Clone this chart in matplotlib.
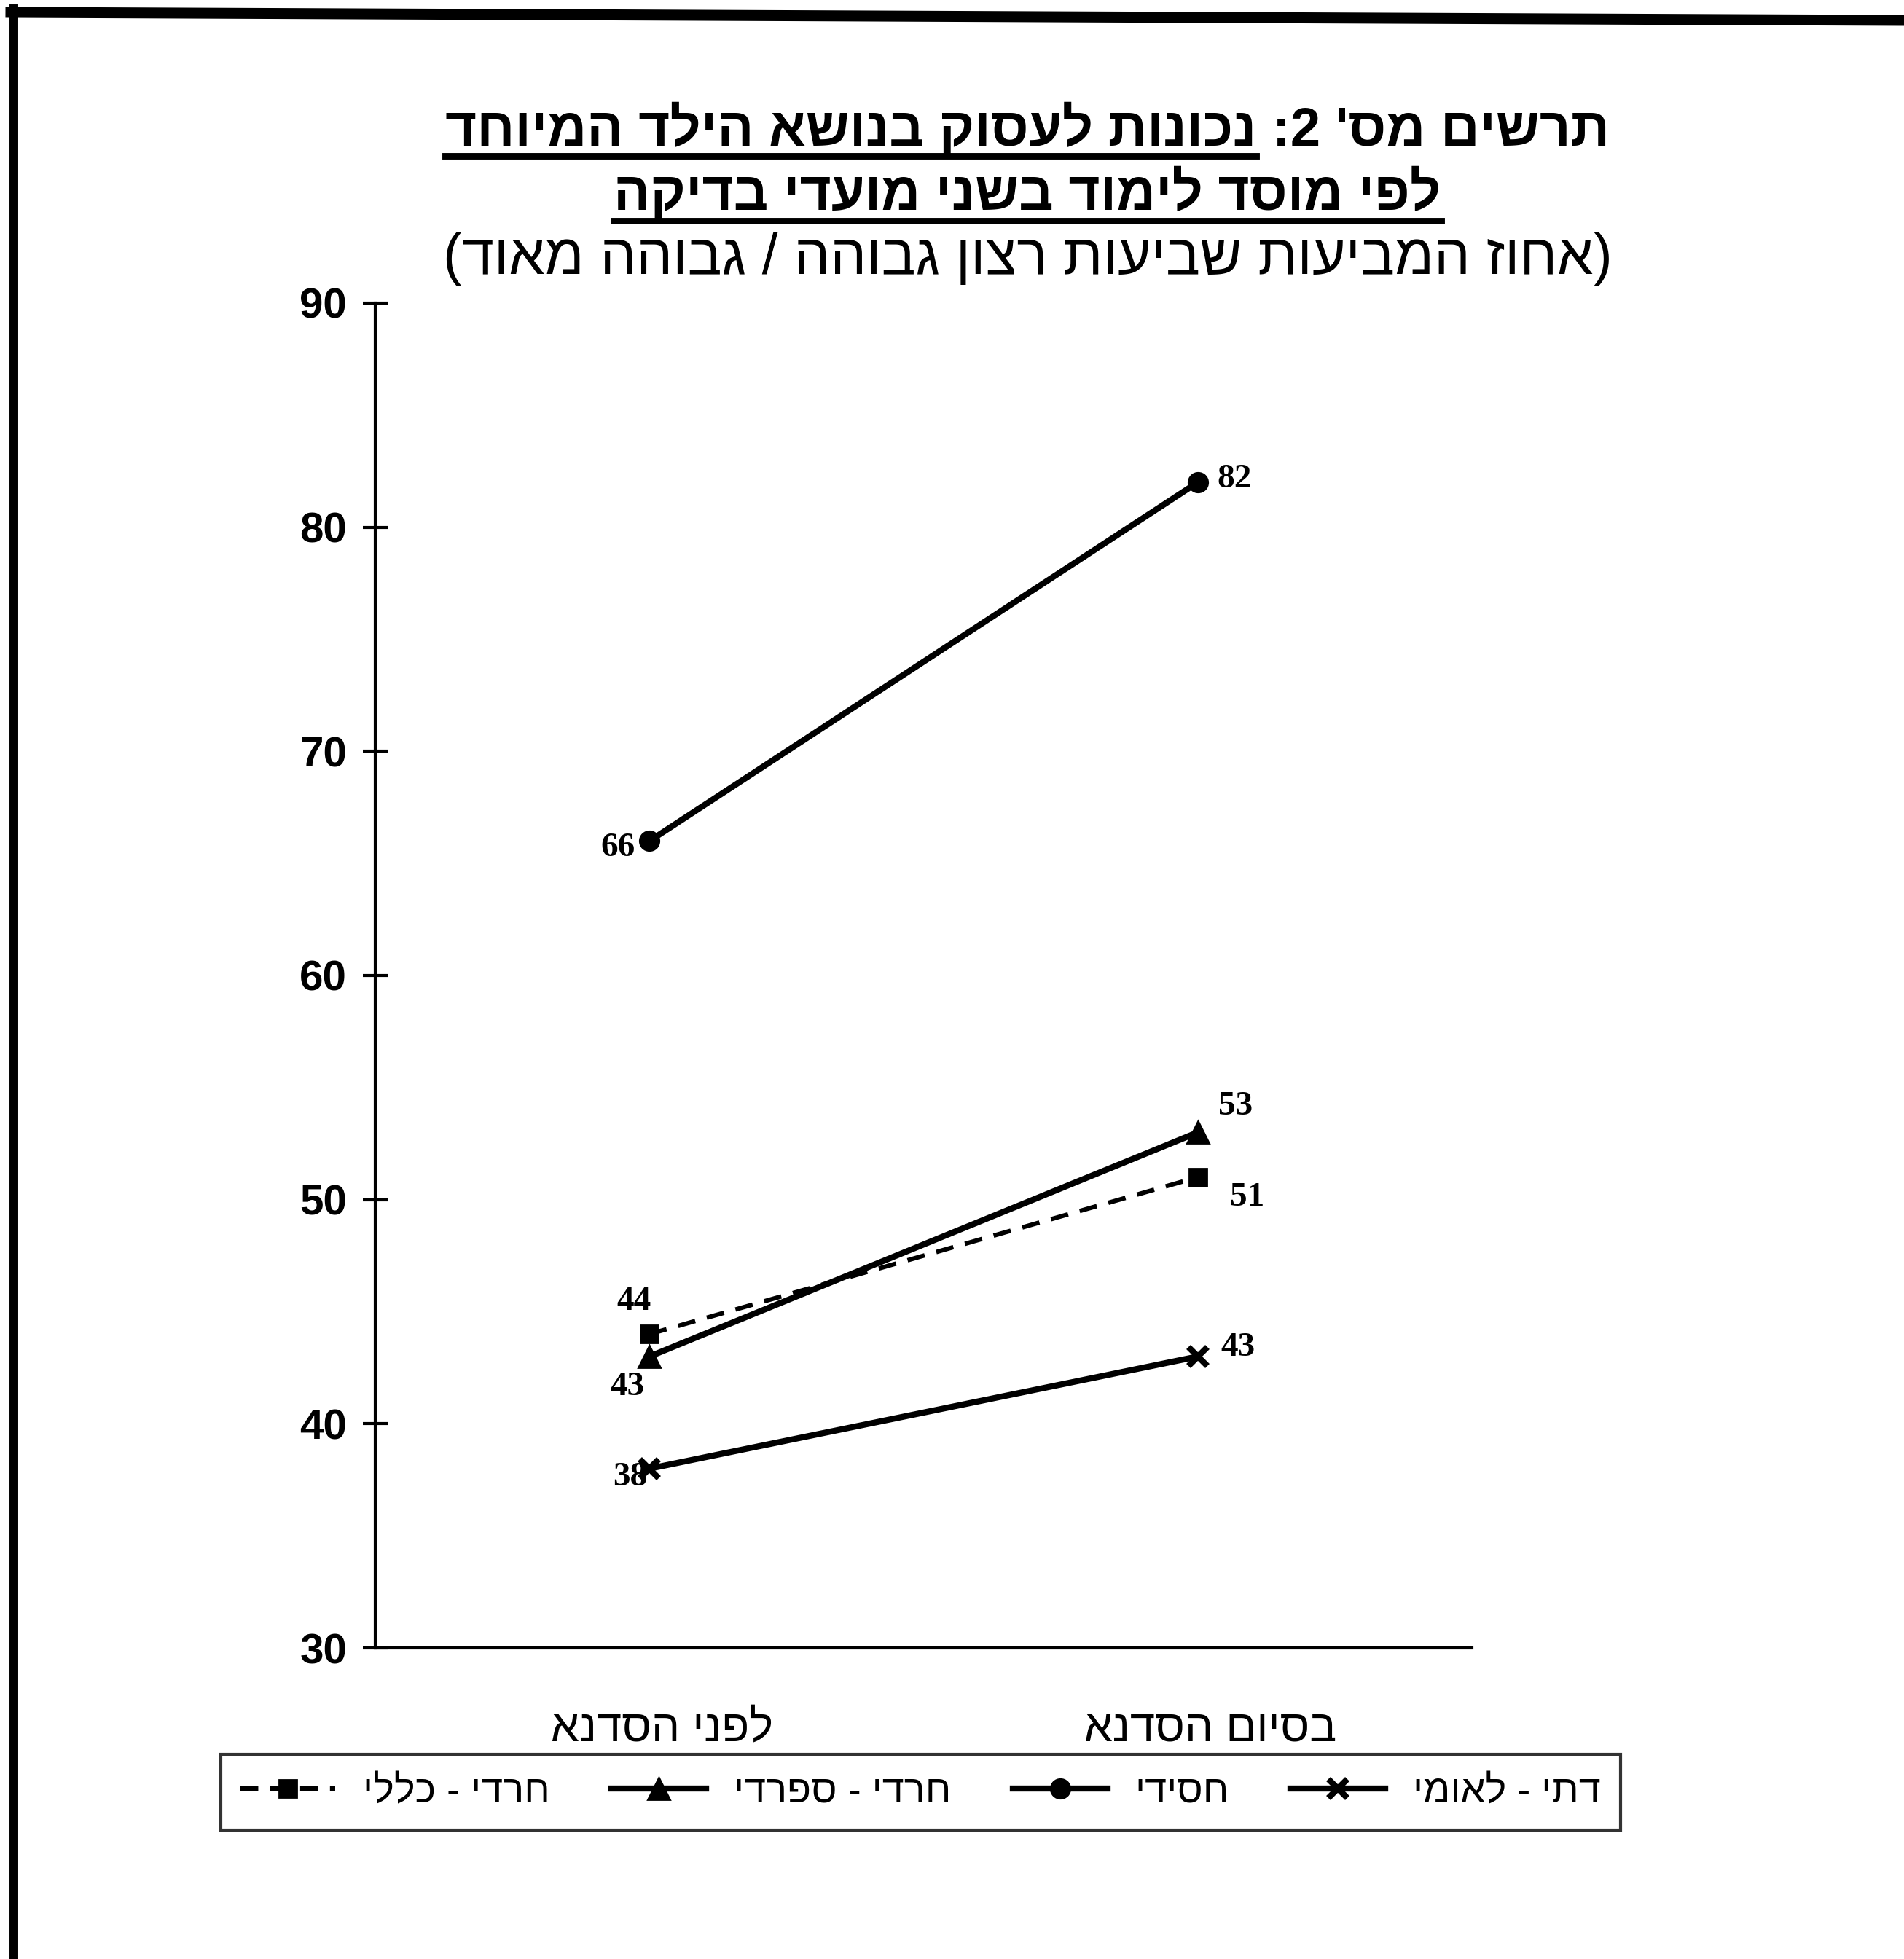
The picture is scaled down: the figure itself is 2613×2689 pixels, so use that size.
import matplotlib
matplotlib.use("Agg")
import matplotlib.pyplot as plt
from matplotlib.lines import Line2D

# ---------------- data ----------------
categories = ['לפני הסדנא', 'בסיום הסדנא']
series_names = ['דתי - לאומי', 'חסידי', 'חרדי - ספרדי', 'חרדי - כללי']
dati_leumi = [38, 43]
hasidi = [66, 82]
haredi_sfaradi = [43, 53]
haredi_klali = [44, 51]
y_ticks = [30, 40, 50, 60, 70, 80, 90]

title_head = "תרשים מס' 2:"
title_rest = "נכונות לעסוק בנושא הילד המיוחד"
title_line2 = "לפי מוסד לימוד בשני מועדי בדיקה"
title_line3 = "(אחוז המביעות שביעות רצון גבוהה / גבוהה מאוד)"


def rtl(s):
    """Visual (left-to-right) order for a Hebrew string."""
    r = s[::-1]
    return r.translate(str.maketrans({'(': ')', ')': '('}))


W, H, DPI = 2613, 2689, 200
HEB = ['Liberation Sans', 'DejaVu Sans']
SERIF = ['Liberation Serif', 'DejaVu Serif']

plt.rcParams['font.family'] = HEB

fig = plt.figure(figsize=(W / DPI, H / DPI), dpi=DPI)
fig.patch.set_facecolor('white')

ax_left, ax_right, ax_top, ax_bottom = 515, 2020, 416, 2262
ax = fig.add_axes([ax_left / W, 1 - ax_bottom / H,
                   (ax_right - ax_left) / W, (ax_bottom - ax_top) / H])

x = [0, 1]
lw = 3.0
ms = 9.5
ax.plot(x, dati_leumi, color='black', lw=lw, marker='x', ms=ms, mew=3,
        label=rtl(series_names[0]))
ax.plot(x, hasidi, color='black', lw=lw, marker='o', ms=ms,
        label=rtl(series_names[1]))
ax.plot(x, haredi_sfaradi, color='black', lw=lw, marker='^', ms=ms + 1,
        label=rtl(series_names[2]))
ax.plot(x, haredi_klali, color='black', lw=2.2, ls=(0, (4.0, 2.7)),
        marker='s', ms=ms - 1, label=rtl(series_names[3]))

# data labels (offsets in points)
label_specs = [
    (dati_leumi, [(-9.4, -4.3), (20, 4.3)]),
    (hasidi, [(-15.5, -3.6), (18, 1.4)]),
    (haredi_sfaradi, [(-10.8, -15), (18.7, 12.6)]),
    (haredi_klali, [(-7.5, 15.8), (24.5, -10)]),
]
for vals, offs in label_specs:
    for xi, v, off in zip(x, vals, offs):
        ax.annotate(str(v), (xi, v), xytext=off, textcoords='offset points',
                    ha='center', va='center', fontsize=17,
                    fontweight='bold', family=SERIF)

ax.set_xlim(-0.5, 1.5)
ax.set_ylim(30, 90)
ax.set_yticks(y_ticks)
ax.set_yticklabels([str(t) for t in y_ticks], fontsize=21, fontweight='bold')
# category labels sit slightly right of the category centres in the original
ax.set_xticks([xi + 0.023 for xi in x])
ax.set_xticklabels([rtl(c) for c in categories], fontsize=22.3)
ax.tick_params(axis='y', direction='inout', length=12, width=1.5, pad=8)
ax.tick_params(axis='x', length=0, pad=30)
for s in ['top', 'right']:
    ax.spines[s].set_visible(False)
for s in ['left', 'bottom']:
    ax.spines[s].set_linewidth(1.5)

# legend
handles, labels = ax.get_legend_handles_labels()
order = [3, 2, 1, 0]
leg = fig.legend([handles[i] for i in order], [labels[i] for i in order],
                 loc='center', bbox_to_anchor=(303 / W, 1 - 2520 / H,
                                               (2224 - 303) / W, 120 / H),
                 mode='expand', ncol=4, fontsize=19.5, frameon=True,
                 fancybox=False, edgecolor='black', borderaxespad=0,
                 handlelength=2.4, handletextpad=0.7, borderpad=0.5)
leg.get_frame().set_linewidth(1.5)

# titles
cx = 1410
fs_title = 26.8
t1a = fig.text(0, 0, rtl(title_rest), fontsize=fs_title, fontweight='bold',
               ha='left', va='baseline')
t1b = fig.text(0, 0, rtl(title_head), fontsize=fs_title, fontweight='bold',
               ha='left', va='baseline')
t2 = fig.text(cx / W, 1 - 288 / H, rtl(title_line2), fontsize=fs_title,
              fontweight='bold', ha='center', va='baseline')
t3 = fig.text(cx / W, 1 - 376 / H, rtl(title_line3), fontsize=28.3,
              ha='center', va='baseline')

fig.canvas.draw()
r = fig.canvas.get_renderer()
wa = t1a.get_window_extent(r).width
wb = t1b.get_window_extent(r).width
gap = 0.3 * fs_title * DPI / 72
total = wa + gap + wb
left = cx - total / 2
y1 = 1 - 200 / H
t1a.set_position((left / W, y1))
t1b.set_position(((left + wa + gap) / W, y1))
fig.add_artist(Line2D([left / W, (left + wa) / W], [1 - 214 / H] * 2,
                      transform=fig.transFigure, color='black', lw=3.2))
bb2 = t2.get_window_extent(r)
fig.add_artist(Line2D([bb2.x0 / W, bb2.x1 / W], [1 - 303 / H] * 2,
                      transform=fig.transFigure, color='black', lw=3.2))

# page frame (scanned border)
fig.add_artist(Line2D([19 / W, 19 / W], [1 - 12 / H, 0],
                      transform=fig.transFigure, color='black', lw=4.3))
fig.add_artist(Line2D([15 / W, 1.0], [1 - 17 / H, 1 - 28 / H],
                      transform=fig.transFigure, color='black', lw=5.4))

fig.savefig('out.png', dpi=DPI)
